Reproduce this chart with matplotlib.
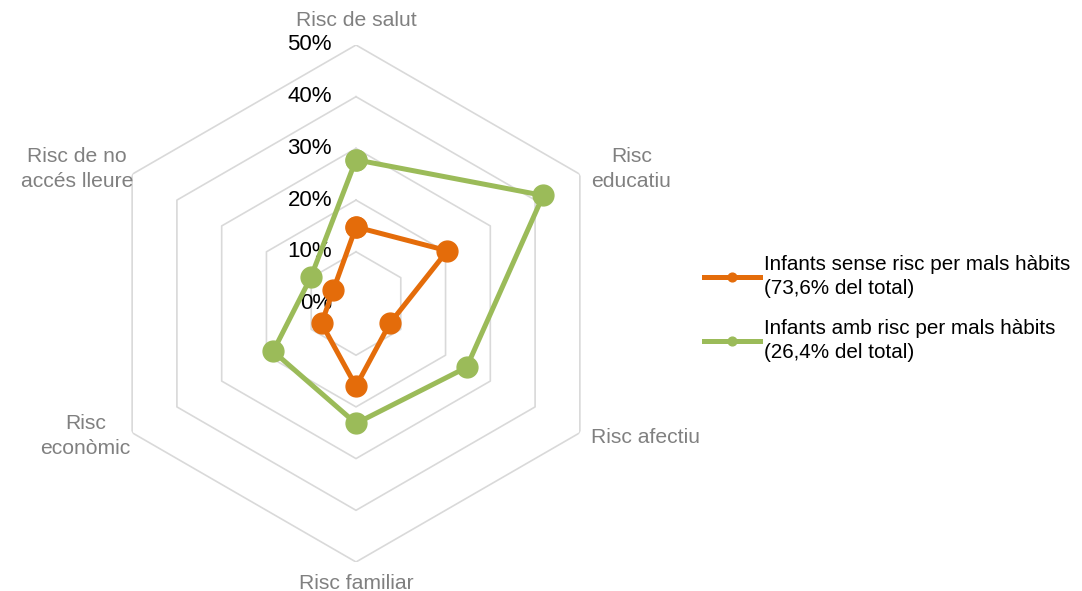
import numpy as np
import matplotlib
matplotlib.use("Agg")
import matplotlib.pyplot as plt

plt.rcParams["font.family"] = ["Liberation Sans", "DejaVu Sans"]

categories = ["Risc de salut", "Risc\neducatiu", "Risc afectiu", "Risc familiar",
              "Risc\neconòmic", "Risc de no\naccés lleure"]
sense_risc = [14.8, 20.4, 7.6, 16.0, 7.7, 5.1]
amb_risc = [27.8, 41.8, 24.7, 23.2, 18.5, 10.1]
series_labels = ["Infants sense risc per mals hàbits\n(73,6% del total)",
                 "Infants amb risc per mals hàbits\n(26,4% del total)"]
ticks = [0, 10, 20, 30, 40, 50]

ORANGE = "#E46C0A"
GREEN = "#9BBB59"
GRID = "#D9D9D9"
FS = 15.2

# label placement (angle in degrees clockwise from top, radius in data units)
label_pos = [(0, 54.8), (63.9, 59.3), (114.8, 61.6), (180, 54.1), (243.9, 58.3), (295.7, 59.9)]

W, H = 1082, 591
fig = plt.figure(figsize=(W / 100, H / 100), dpi=100)
cx, cy, rad = 356, 303.5, 258.5
ax = fig.add_axes([(cx - rad) / W, (H - cy - rad) / H, 2 * rad / W, 2 * rad / H],
                  projection="polar")
ax.set_theta_zero_location("N")
ax.set_theta_direction(-1)
ax.set_ylim(0, 50)
ax.grid(False)
ax.spines["polar"].set_visible(False)
ax.set_xticks([])
ax.set_yticks([])
ax.patch.set_alpha(0)

n = len(categories)
angles = np.arange(n) * 2 * np.pi / n
closed = np.append(angles, angles[0])

for t in ticks[1:]:
    ax.plot(closed, [t] * (n + 1), color=GRID, lw=1.2, zorder=1)

for t in ticks:
    ax.annotate(f"{t}%", xy=(0, t), xytext=(-17.3, 0), textcoords="offset points",
                ha="right", va="center", fontsize=16, color="#000000")

for vals, color, lab in [(sense_risc, ORANGE, series_labels[0]),
                         (amb_risc, GREEN, series_labels[1])]:
    ax.plot(closed, vals + vals[:1], color=color, lw=3.6, marker="o",
            markersize=15, label=lab, zorder=3)

for name, (deg, r) in zip(categories, label_pos):
    ax.text(np.deg2rad(deg), r, name, ha="center", va="center", fontsize=FS,
            color="#808080", linespacing=1.4)

handles, labels = ax.get_legend_handles_labels()
leg = fig.legend(handles, labels, loc="upper left", bbox_to_anchor=(704 / W, 1 - 255 / H),
                 frameon=False, fontsize=14.9, handlelength=2.7, handletextpad=0.2,
                 markerscale=0.42, labelspacing=1.05, borderpad=0, borderaxespad=0)
for txt in leg.get_texts():
    txt.set_linespacing(1.3)

fig.savefig("out.png", dpi=100)
